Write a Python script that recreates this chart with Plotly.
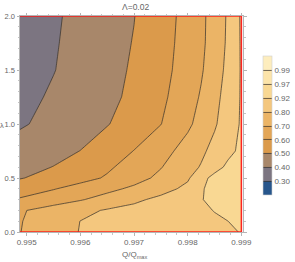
import numpy as np
import plotly.graph_objects as go

# grid of Q/Qmax values (columns) and lambda values (rows)
q_vals = [0.994876, 0.9955, 0.9960, 0.9965, 0.9970, 0.9975, 0.9980, 0.99825, 0.9985, 0.99875, 0.9990]
lam_vals = [0.0, 0.1, 0.2, 0.3, 0.4, 0.5, 0.6, 0.75, 1.0, 1.25, 1.5, 1.75, 2.0]

# estimated values (rows follow lam_vals)
z_vals = [
    [0.698, 0.761, 0.804, 0.823, 0.843, 0.862, 0.882, 0.891, 0.901, 0.912, 0.921],
    [0.695, 0.755, 0.801, 0.823, 0.844, 0.866, 0.888, 0.898, 0.909, 0.9195, 0.935],
    [0.690, 0.739, 0.776, 0.810, 0.837, 0.865, 0.892, 0.907, 0.921, 0.935, 0.950],
    [0.610, 0.656, 0.693, 0.736, 0.780, 0.830, 0.885, 0.913, 0.935, 0.950, 0.958],
    [0.551, 0.595, 0.635, 0.676, 0.718, 0.763, 0.829, 0.907, 0.938, 0.950, 0.955],
    [0.495, 0.531, 0.569, 0.610, 0.664, 0.722, 0.787, 0.882, 0.935, 0.948, 0.955],
    [0.475, 0.502, 0.544, 0.586, 0.638, 0.696, 0.768, 0.808, 0.877, 0.930, 0.945],
    [0.443, 0.475, 0.501, 0.551, 0.602, 0.664, 0.738, 0.782, 0.834, 0.890, 0.930],
    [0.389, 0.429, 0.462, 0.495, 0.545, 0.598, 0.682, 0.733, 0.789, 0.859, 0.925],
    [0.372, 0.412, 0.445, 0.478, 0.519, 0.579, 0.660, 0.709, 0.771, 0.846, 0.924],
    [0.351, 0.397, 0.433, 0.470, 0.511, 0.568, 0.643, 0.690, 0.753, 0.829, 0.924],
    [0.346, 0.392, 0.429, 0.465, 0.504, 0.563, 0.635, 0.681, 0.742, 0.818, 0.925],
    [0.342, 0.388, 0.424, 0.461, 0.498, 0.558, 0.631, 0.679, 0.739, 0.814, 0.926],
]

# contour levels (non-uniform) and their labels
levels = [0.30, 0.40, 0.50, 0.60, 0.70, 0.80, 0.92, 0.97, 0.99]
level_labels = ["0.30", "0.40", "0.50", "0.60", "0.70", "0.80", "0.92", "0.97", "0.99"]
band_colors = ["#27568c", "#7c7581", "#a8876a", "#db9a4b", "#e3a657",
               "#ebb466", "#f4c77e", "#f9d893", "#fce4aa", "#fdedbe"]

x_ticks = [0.995, 0.996, 0.997, 0.998, 0.999]
y_ticks = [0.0, 0.5, 1.0, 1.5, 2.0]

# region boundary (red)
boundary_x = [q_vals[0], 0.999, 0.999, q_vals[0]]
boundary_y = [2.0, 2.0, 0.0, 0.0]

# map values to equally spaced level index so contour levels become uniform
edges = [0.2] + levels + [1.0]
z_idx = np.interp(np.array(z_vals), edges, np.arange(len(edges)))

n = len(band_colors)
colorscale = [[k / (n - 1), c] for k, c in enumerate(band_colors)]

FONT = "Liberation Sans"
TXT = "#666666"

L, R, T, B = 20, 51.7, 15.7, 30.3
PW, PH = 295 - L - R, 262 - T - B

fig = go.Figure()
fig.add_trace(go.Contour(
    x=q_vals, y=lam_vals, z=z_idx,
    autocontour=False,
    contours=dict(start=1, end=9, size=1, coloring="fill", showlines=True),
    line=dict(color="rgba(55,50,45,0.8)", width=0.9, smoothing=0),
    colorscale=colorscale,
    zmin=0, zmax=10,
    colorbar=dict(
        x=(263 - L) / PW, xanchor="left",
        y=1 - (125.5 - T) / PH, yanchor="middle",
        len=139, lenmode="pixels",
        thickness=9, thicknessmode="pixels",
        tickvals=list(range(1, 10)), ticktext=level_labels,
        ticks="", ticklen=0, tickfont=dict(family=FONT, size=8, color=TXT),
        outlinewidth=0.6, outlinecolor="#d0d0d0",
        xpad=0, ypad=0,
    ),
    hoverinfo="skip",
))
fig.add_trace(go.Scatter(
    x=boundary_x, y=boundary_y, mode="lines", cliponaxis=False,
    line=dict(color="rgba(255,20,20,0.9)", width=1.5),
    showlegend=False, hoverinfo="skip",
))

axis_common = dict(
    showgrid=False, zeroline=False, automargin=False,
    showline=True, linecolor="#b5b5b5", linewidth=1, mirror="allticks",
    ticks="outside", ticklen=2.5, tickcolor="#b5b5b5", tickwidth=0.8,
)
fig.update_xaxes(
    range=[0.994876, 0.99903], tickvals=x_ticks, tickformat=".3f",
    tickfont=dict(family=FONT, size=8, color=TXT),
    minor=dict(dtick=0.0002, tick0=0.995, ticks="outside", ticklen=1.5, tickcolor="#c5c5c5"),
    **axis_common,
)
fig.update_yaxes(
    range=[0.0, 2.0], tickvals=y_ticks, tickformat=".1f",
    tickfont=dict(family=FONT, size=7.5, color=TXT),
    minor=dict(dtick=0.1, tick0=0, ticks="outside", ticklen=1.5, tickcolor="#c5c5c5"),
    **axis_common,
)

fig.update_layout(
    width=295, height=262,
    margin=dict(l=L, r=R, t=T, b=B, autoexpand=False),
    paper_bgcolor="white", plot_bgcolor="white",
    showlegend=False,
    font=dict(family=FONT, color=TXT),
    annotations=[
        dict(text="Λ=0.02", x=(136 - L) / PW, y=1 + (T - 6.5) / PH, xref="paper", yref="paper",
             showarrow=False, xanchor="center", yanchor="middle",
             font=dict(family=FONT, size=8.5, color=TXT)),
        dict(text="λ", x=(2.0 - L) / PW, y=1 - (125 - T) / PH, xref="paper", yref="paper",
             showarrow=False, xanchor="center", yanchor="middle",
             font=dict(family=FONT, size=7.5, color=TXT)),
        dict(text="Q/Q<sub>max</sub>", x=(135 - L) / PW, y=-(255 - (262 - B)) / PH,
             xref="paper", yref="paper", showarrow=False, xanchor="center", yanchor="middle",
             font=dict(family=FONT, size=8, color=TXT)),
    ],
)

fig.write_html(
    "out.html",
    config={"displayModeBar": False},
    post_script="document.body.style.margin='0';document.body.style.overflow='hidden';",
)
